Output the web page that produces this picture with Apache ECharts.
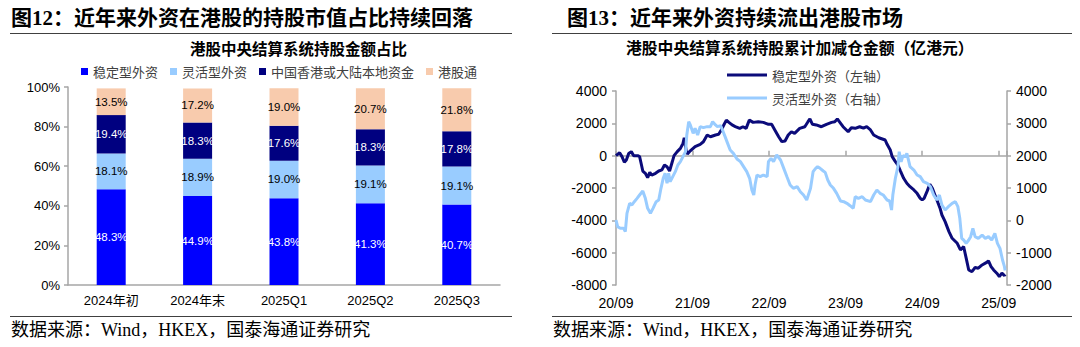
<!DOCTYPE html>
<html><head><meta charset="utf-8">
<script src="https://cdn.jsdelivr.net/npm/echarts@6/dist/echarts.min.js"></script>
<style>
html,body{margin:0;padding:0;background:#fff;}
#wrap{position:relative;width:1080px;height:347px;overflow:hidden;background:#fff;}
#chart{position:absolute;left:0;top:0;width:1080px;height:347px;}
.hd{position:absolute;top:5px;height:26px;line-height:26px;font-weight:bold;font-size:21px;font-family:"Liberation Serif","Noto Sans CJK SC";color:#000;white-space:nowrap;}
.rule{position:absolute;height:0;border-top:1.5px solid #404040;}
.ft{position:absolute;top:318px;height:24px;line-height:24px;font-size:18px;font-family:"Liberation Serif","Noto Sans CJK SC";color:#000;white-space:nowrap;}
</style></head>
<body>
<div id="wrap">
  <div id="chart"></div>
  <div class="hd" style="left:11px;">图12：近年来外资在港股的持股市值占比持续回落</div>
  <div class="hd" style="left:567px;">图13：近年来外资持续流出港股市场</div>
  <div class="rule" style="left:10px;top:33px;width:502px;"></div>
  <div class="rule" style="left:552px;top:33px;width:520px;"></div>
  <div class="rule" style="left:10px;top:316px;width:502px;"></div>
  <div class="rule" style="left:552px;top:316px;width:520px;"></div>
  <div class="ft" style="left:11px;">数据来源：Wind，HKEX，国泰海通证券研究</div>
  <div class="ft" style="left:553px;">数据来源：Wind，HKEX，国泰海通证券研究</div>
</div>
<script>
// ---------- Left chart data (share of holdings, %) ----------
const barCategories = ['2024年初', '2024年末', '2025Q1', '2025Q2', '2025Q3'];
const stableShare  = [48.3, 44.9, 43.8, 41.3, 40.7];
const flexShare    = [18.1, 18.9, 19.0, 19.1, 19.1];
const localShare   = [19.4, 18.3, 17.6, 18.3, 17.8];
const connectShare = [13.5, 17.2, 19.0, 20.7, 21.8];
const barSeriesNames = ['稳定型外资', '灵活型外资', '中国香港或大陆本地资金', '港股通'];

// ---------- Right chart data (cumulative net flow, 亿港元) ----------
// x = months elapsed since Sep 2020
const lineXLabels = ['20/09', '21/09', '22/09', '23/09', '24/09', '25/09'];
const lineSeriesNames = ['稳定型外资（左轴）', '灵活型外资（右轴）'];
const stableMonths = [0,0.57,0.94,1.31,1.62,1.99,2.4,2.77,3.4,3.7,3.9,4.2,4.6,4.96,5.3,5.6,6.2,6.7,7.2,7.6,8.0,8.4,8.8,9.1,9.6,10.1,10.5,10.7,11.0,11.2,11.65,12.4,13.2,13.7,14.3,14.8,15.6,16.1,16.5,16.9,17.3,17.7,18.2,18.7,19.4,19.9,20.4,20.9,21.5,22.3,23.1,23.9,24.4,24.9,25.5,26.0,26.5,27.0,27.5,28.0,28.8,29.6,30.1,30.4,30.8,31.4,32.2,33.0,33.8,34.3,34.7,35.1,35.6,36.4,36.9,37.5,38.2,38.8,39.3,39.9,40.4,41.2,42.2,42.5,43.0,43.3,43.8,44.2,44.6,45.1,45.6,46.1,46.7,47.2,47.7,48.0,48.3,48.8,49.2,49.6,50.0,50.4,50.8,51.1,51.6,52.2,52.7,53.5,54.0,54.5,54.9,55.3,55.8,56.3,56.8,57.4,57.9,58.4,58.8,59.2,59.7,60.1,60.5,60.9,61.0];
const stableValues = [0,185,-60,-410,-270,140,250,0,0,-60,-410,-950,-1090,-1360,-1030,-1200,-1090,-950,-880,-580,-680,-950,-410,0,250,450,760,1110,300,100,300,560,700,860,1280,1170,1280,1320,1590,1900,2200,2060,1900,1800,1690,1790,1690,2200,2060,2100,2060,1940,1940,1590,1170,870,910,1280,1480,1380,1690,1790,2100,2270,1940,1900,1790,1940,2060,2100,2270,2060,1790,1480,1730,1690,1790,1700,1790,1590,1280,1110,970,700,350,-60,-370,-580,-950,-1400,-1710,-1920,-2120,-2330,-2640,-2740,-2640,-2180,-1770,-2020,-2430,-2840,-3250,-3670,-4080,-4700,-5110,-5420,-5830,-5620,-6340,-7070,-7170,-6920,-6960,-6760,-6650,-6510,-6860,-7070,-7270,-7480,-7270,-7420,-7350];
const flexMonths = [0,0.26,0.68,1.2,1.46,1.72,2.14,2.5,2.87,3.3,3.7,4.2,4.6,4.96,5.4,5.8,6.3,6.7,7.05,7.4,7.7,8.0,8.25,8.5,8.9,9.3,9.7,10.1,10.5,10.9,11.1,11.4,11.65,12.1,12.4,12.8,13.2,13.7,14.3,14.8,15.15,15.6,15.9,16.4,16.8,17.1,17.5,17.9,18.4,18.97,19.5,20.0,20.5,20.95,21.3,21.6,21.8,22.1,22.6,23.1,23.7,23.9,24.3,24.7,25.2,25.8,26.3,26.8,27.3,27.8,28.4,28.9,29.4,29.9,30.5,30.9,31.3,31.6,32.0,32.5,32.8,33.2,33.6,34.1,34.6,35.2,35.7,36.2,36.7,37.2,37.5,38.0,38.6,39.1,39.9,40.4,40.9,41.4,41.9,42.5,42.9,43.2,43.4,43.8,44.2,44.4,44.7,45.0,45.4,45.6,46.1,46.7,47.2,47.7,48.2,48.8,49.3,49.8,50.3,50.7,51.1,51.6,52.1,52.7,53.2,53.6,53.9,54.2,54.5,54.9,55.3,55.6,55.95,56.3,56.8,57.4,57.9,58.4,58.9,59.4,59.8,60.2,60.6,60.9,61.0];
const flexValues = [10,-196,-248,-248,-350,216,526,474,577,680,783,907,680,371,216,371,577,629,990,1300,1454,1145,1454,1196,1350,1505,1711,1814,1969,2124,2640,3052,2950,2690,2845,2640,2897,2866,2897,2897,3052,2950,2897,2928,2742,2588,2381,2175,2072,1897,1814,1660,1505,1300,938,783,1093,1402,1350,1402,1350,1814,1918,1814,2020,1866,1608,1350,1093,990,1041,886,783,629,990,1505,1608,1660,1608,1526,1484,1247,1093,990,835,598,577,526,453,371,732,680,732,629,577,783,938,835,783,629,598,319,783,1300,1660,2124,1814,2000,1969,2072,1660,1556,1402,1350,1196,1145,1041,783,629,783,474,319,422,526,577,422,62,-557,-608,-711,-608,-505,-248,-505,-557,-454,-557,-505,-608,-402,-711,-866,-1227,-1433,-1550];

const barColors = ['#0000FF', '#99CCFF', '#000080', '#F8CBAD'];
const barLabelColors = ['#FFFFFF', '#000000', '#FFFFFF', '#000000'];
const lineColors = ['#0B0B7A', '#99CCFF'];

const axisGray = '#A6A6A6';
const latin = '"Liberation Sans","Noto Sans CJK SC",sans-serif';
const cjk = '"Noto Sans CJK SC",sans-serif';
const plain = v => String(v);

const chart = echarts.init(document.getElementById('chart'), null, { renderer: 'svg' });

const barData = [stableShare, flexShare, localShare, connectShare];
const barSeries = barData.map((arr, i) => ({
  name: barSeriesNames[i],
  type: 'bar',
  stack: 'share',
  xAxisIndex: 0,
  yAxisIndex: 0,
  barWidth: 29,
  data: arr,
  itemStyle: { color: barColors[i] },
  label: {
    show: true,
    position: 'inside',
    formatter: p => p.value.toFixed(1) + '%',
    color: barLabelColors[i],
    fontSize: 11.5,
    fontFamily: latin
  },
  emphasis: { disabled: true }
}));

const lineSeries = [
  {
    name: lineSeriesNames[0], type: 'line', xAxisIndex: 1, yAxisIndex: 1,
    symbol: 'none', smooth: false,
    lineStyle: { width: 3, color: lineColors[0] }, itemStyle: { color: lineColors[0] },
    data: stableMonths.map((m, i) => [m, stableValues[i]]),
    z: 3
  },
  {
    name: lineSeriesNames[1], type: 'line', xAxisIndex: 1, yAxisIndex: 2,
    symbol: 'none', smooth: false,
    lineStyle: { width: 3, color: lineColors[1] }, itemStyle: { color: lineColors[1] },
    data: flexMonths.map((m, i) => [m, flexValues[i]]),
    z: 4
  }
];

const option = {
  animation: false,
  backgroundColor: '#fff',
  graphic: [
    { type: 'text', left: 190, top: 40, style: { text: '港股中央结算系统持股金额占比', font: 'bold 15.5px "Noto Sans CJK SC"', fill: '#000' } },
    { type: 'text', left: 626, top: 40, style: { text: '港股中央结算系统持股累计加减仓金额（亿港元）', font: 'bold 15.8px "Noto Sans CJK SC"', fill: '#000' } }
  ],
  legend: [
    {
      data: barSeriesNames, left: 76, top: 60, icon: 'rect', itemWidth: 7, itemHeight: 7, itemGap: 12,
      textStyle: { fontSize: 13, color: '#404040', fontFamily: cjk }, selectedMode: false
    },
    {
      data: lineSeriesNames, orient: 'vertical', left: 722, top: 61, icon: 'rect', itemWidth: 40, itemHeight: 3, itemGap: 5,
      textStyle: { fontSize: 13, color: '#404040', fontFamily: cjk, lineHeight: 18 }, selectedMode: false
    }
  ],
  grid: [
    { left: 68, top: 87, width: 432, height: 198, containLabel: false },
    { left: 616, top: 91, width: 391, height: 194, containLabel: false }
  ],
  xAxis: [
    {
      gridIndex: 0, type: 'category', data: barCategories, boundaryGap: true,
      axisLine: { lineStyle: { color: axisGray, width: 1.5 } },
      axisTick: { length: 4, lineStyle: { color: axisGray, width: 1.5 } },
      axisLabel: { fontSize: 13, color: '#000', margin: 9, fontFamily: latin },
      splitLine: { show: false }
    },
    {
      gridIndex: 1, type: 'value', min: 0, max: 61.3, interval: 12,
      axisLine: { show: false, onZero: false },
      axisTick: { show: false },
      axisLabel: {
        fontSize: 14, color: '#000', margin: 11, fontFamily: latin,
        showMaxLabel: false,
        formatter: v => (Math.abs(v % 12) < 1e-6 ? lineXLabels[Math.round(v / 12)] : '')
      },
      splitLine: { show: false }
    },
    {
      gridIndex: 1, type: 'value', min: 0, max: 61.3, interval: 12, position: 'bottom',
      axisLine: { show: true, onZero: true, onZeroAxisIndex: 1, lineStyle: { color: axisGray, width: 1.5 } },
      axisTick: { show: true, inside: true, length: 5, lineStyle: { color: axisGray, width: 1.5 } },
      axisLabel: { show: false },
      splitLine: { show: false }
    }
  ],
  yAxis: [
    {
      gridIndex: 0, type: 'value', min: 0, max: 100, interval: 20,
      axisLine: { show: true, lineStyle: { color: axisGray, width: 1.5 } },
      axisTick: { show: true, length: 4, lineStyle: { color: axisGray, width: 1.5 } },
      axisLabel: { formatter: '{value}%', fontSize: 13, color: '#000', margin: 8, fontFamily: latin },
      splitLine: { show: false }
    },
    {
      gridIndex: 1, type: 'value', position: 'left', min: -8000, max: 4000, interval: 2000,
      axisLine: { show: true, onZero: false, lineStyle: { color: axisGray, width: 1.5 } },
      axisTick: { show: true, length: 4, lineStyle: { color: axisGray, width: 1.5 } },
      axisLabel: { fontSize: 14, color: '#000', margin: 9, fontFamily: latin, formatter: plain },
      splitLine: { show: false }
    },
    {
      gridIndex: 1, type: 'value', position: 'right', min: -2000, max: 4000, interval: 1000,
      axisLine: { show: true, onZero: false, lineStyle: { color: axisGray, width: 1.5 } },
      axisTick: { show: true, length: 4, lineStyle: { color: axisGray, width: 1.5 } },
      axisLabel: { fontSize: 14, color: '#000', margin: 9, fontFamily: latin, formatter: plain },
      splitLine: { show: false }
    }
  ],
  series: barSeries.concat(lineSeries)
};

chart.setOption(option);
</script>
</body></html>
